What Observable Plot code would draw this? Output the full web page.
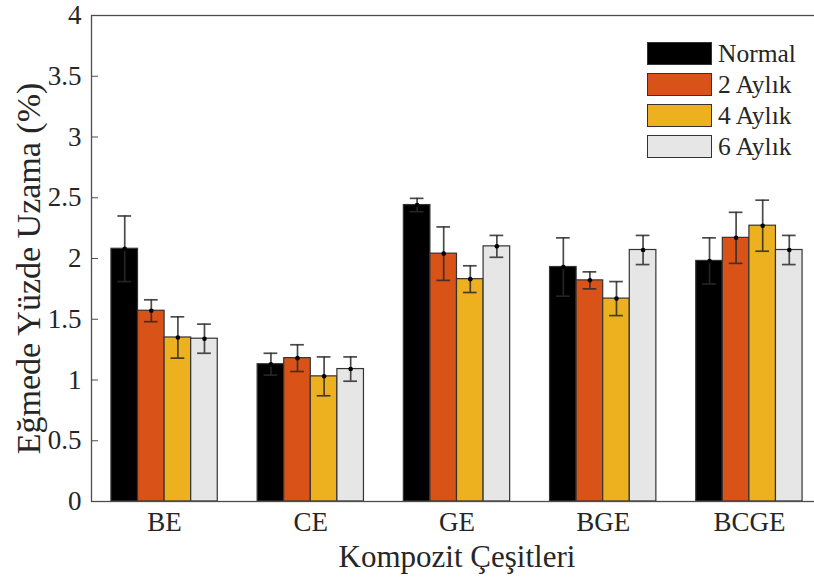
<!DOCTYPE html>
<html>
<head>
<meta charset="utf-8">
<script src="https://cdn.jsdelivr.net/npm/d3@7"></script>
<script src="https://cdn.jsdelivr.net/npm/@observablehq/plot@0.6"></script>
<style>
  html, body { margin: 0; padding: 0; background: #fff; overflow: hidden; }
  #wrap { position: relative; width: 814px; height: 579px; overflow: hidden; font-family: "Liberation Serif", "DejaVu Serif", serif; }
  #wrap svg { max-width: none !important; }
  #wrap svg text { font-family: "Liberation Serif", "DejaVu Serif", serif !important; }
  #legend { position: absolute; left: 647px; top: 38px; }
  .item { display: flex; align-items: center; height: 31px; }
  .sw { width: 65px; height: 23px; box-sizing: border-box; border: 1px solid #333; margin-right: 6px; }
  .lab { font-size: 25.5px; color: #262626; line-height: 23px; font-family: "Liberation Serif", "DejaVu Serif", serif; }
</style>
</head>
<body>
<div id="wrap"><div id="legend"></div></div>
<script>
// Composite types on the x axis
const groups = ["BE", "CE", "GE", "BGE", "BCGE"];
// Ageing periods (bar series)
const series = ["Normal", "2 Aylık", "4 Aylık", "6 Aylık"];
const colors = ["#000000", "#D95319", "#EDB120", "#E6E6E6"];

// Mean elongation at bending (%) and its deviation, per composite
const normal    = [2.08, 1.13, 2.44, 1.93, 1.98];
const normalErr = [0.27, 0.09, 0.055, 0.24, 0.19];
const ay2       = [1.57, 1.18, 2.04, 1.82, 2.17];
const ay2Err    = [0.09, 0.11, 0.22, 0.07, 0.21];
const ay4       = [1.35, 1.03, 1.83, 1.67, 2.27];
const ay4Err    = [0.17, 0.16, 0.11, 0.14, 0.21];
const ay6       = [1.34, 1.09, 2.10, 2.07, 2.07];
const ay6Err    = [0.12, 0.10, 0.09, 0.12, 0.12];

const yTicks = [0, 0.5, 1, 1.5, 2, 2.5, 3, 3.5, 4];
const yLabel = "Eğmede Yüzde Uzama (%)";
const xLabel = "Kompozit Çeşitleri";

const values = [normal, ay2, ay4, ay6];
const errors = [normalErr, ay2Err, ay4Err, ay6Err];

// grouped-bar layout in category units: groups at 1..n, bars touching
const groupWidth = series.length / (series.length + 1.5);
const barWidth = groupWidth / series.length;
const capHalf = 0.047;

const rows = [];
groups.forEach((g, gi) => {
  series.forEach((s, si) => {
    const x1 = gi + 1 - groupWidth / 2 + si * barWidth;
    rows.push({
      group: g, series: s,
      value: values[si][gi], err: errors[si][gi],
      x1, x2: x1 + barWidth, xc: x1 + barWidth / 2
    });
  });
});

const font = '"Liberation Serif", "DejaVu Serif", serif';

const chart = Plot.plot({
  width: 824,
  height: 579,
  marginLeft: 91,
  marginRight: 2,
  marginTop: 15,
  marginBottom: 78,
  style: { fontFamily: font, fontSize: "27px", color: "#262626", background: "white", maxWidth: "none" },
  x: { type: "linear", domain: [0.5, 5.5] },
  y: { domain: [0, 4] },
  color: { domain: series, range: colors },
  marks: [
    Plot.rectY(rows, { x1: "x1", x2: "x2", y1: 0, y2: "value", fill: "series", stroke: "#333", strokeWidth: 1.2 }),
    Plot.ruleX(rows, { x: "xc", y1: d => d.value - d.err, y2: d => d.value + d.err, stroke: "#2a2a2a", strokeWidth: 1.7, strokeOpacity: 0.85 }),
    Plot.ruleY(rows, { y: d => d.value + d.err, x1: d => d.xc - capHalf, x2: d => d.xc + capHalf, stroke: "#2a2a2a", strokeWidth: 1.7, strokeOpacity: 0.85 }),
    Plot.ruleY(rows, { y: d => d.value - d.err, x1: d => d.xc - capHalf, x2: d => d.xc + capHalf, stroke: "#2a2a2a", strokeWidth: 1.7, strokeOpacity: 0.85 }),
    Plot.dot(rows, { x: "xc", y: "value", r: 2.3, fill: "#000", stroke: null }),
    Plot.ruleY(yTicks, { y: d => d, x1: 0.5, x2: 0.548, stroke: "#4d4d4d", strokeWidth: 1 }),
    Plot.frame({ stroke: "#4d4d4d", strokeWidth: 1.3 }),
    Plot.axisY({ ticks: yTicks, tickSize: 0, tickPadding: 10, tickFormat: d => d, label: null, fontSize: 27, fontFamily: font }),
    Plot.axisX({ ticks: [1, 2, 3, 4, 5], tickSize: 0, tickPadding: 10, tickFormat: i => groups[i - 1], label: null, fontSize: 27, fontFamily: font }),
    Plot.text([yLabel], { frameAnchor: "left", textAnchor: "middle", dx: -62, dy: 10, rotate: -90, fontSize: 34, fontFamily: font, fill: "#262626" }),
    Plot.text([xLabel], { frameAnchor: "bottom", textAnchor: "middle", dy: 65, fontSize: 31, fontFamily: font, fill: "#262626" })
  ]
});

const wrap = document.getElementById("wrap");
wrap.insertBefore(chart, wrap.firstChild);

// legend
const legend = document.getElementById("legend");
series.forEach((s, i) => {
  const item = document.createElement("div");
  item.className = "item";
  const sw = document.createElement("div");
  sw.className = "sw";
  sw.style.background = colors[i];
  const lab = document.createElement("span");
  lab.className = "lab";
  lab.textContent = s;
  item.appendChild(sw);
  item.appendChild(lab);
  legend.appendChild(item);
});
</script>
</body>
</html>
